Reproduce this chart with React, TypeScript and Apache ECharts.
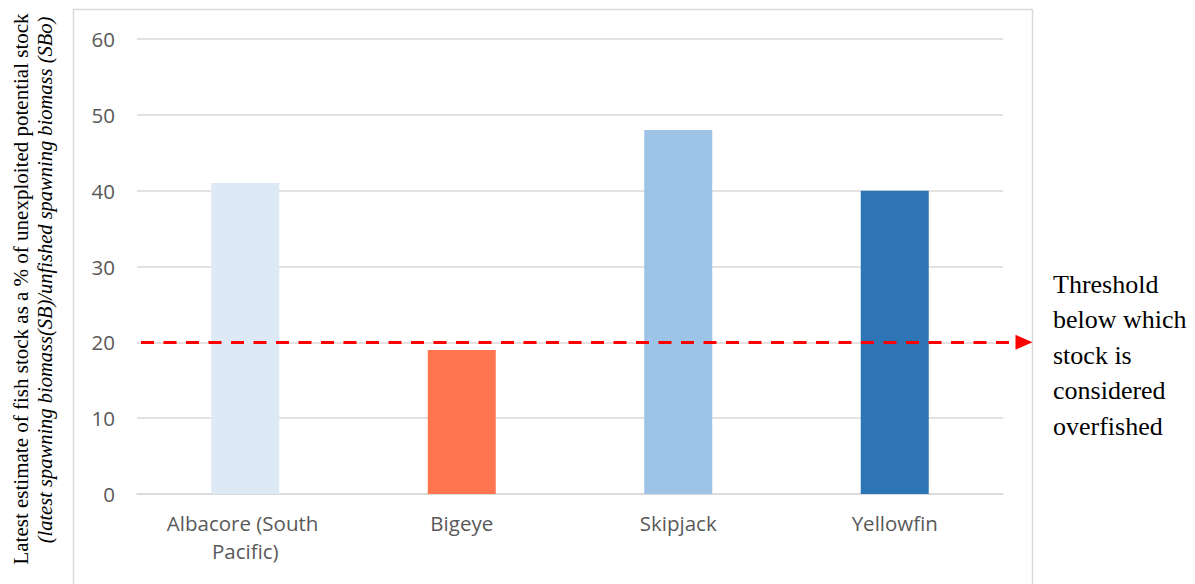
import React, { useEffect, useRef } from "react";
import * as echarts from "echarts";

const categories = ["Albacore (South Pacific)", "Bigeye", "Skipjack", "Yellowfin"];
const values = [41, 19, 48, 40];
const barColors = ["#DDEAF6", "#FF754F", "#9DC3E6", "#2E75B6"];
const threshold = 20;
const yTicks = { min: 0, max: 60, interval: 10 };
const yTitleLine1 = "Latest estimate of fish stock as a % of unexploited potential stock";
const yTitleLine2 = "(latest spawning biomass(SB)/unfished spawning biomass (SBo)";
const thresholdNote = "Threshold\nbelow which\nstock is\nconsidered\noverfished";

export default function App() {
  const ref = useRef<HTMLDivElement>(null);
  useEffect(() => {
    if (!ref.current) return;
    const chart = echarts.init(ref.current, null, { renderer: "svg" });
    chart.setOption({
      animation: false,
      backgroundColor: "#ffffff",
      grid: { left: 137, right: 192, top: 39, bottom: 90, containLabel: false },
      xAxis: {
        type: "category",
        data: categories,
        axisLine: { show: true, lineStyle: { color: "#d9d9d9", width: 1.5 } },
        axisTick: { show: false },
        axisLabel: {
          color: "#595959",
          fontFamily: "Open Sans",
          fontSize: 20.5,
          margin: 15,
          lineHeight: 28,
          width: 185,
          overflow: "break",
          interval: 0,
        },
      },
      yAxis: {
        type: "value",
        min: yTicks.min,
        max: yTicks.max,
        interval: yTicks.interval,
        axisLine: { show: false },
        axisTick: { show: false },
        splitLine: { lineStyle: { color: "#d9d9d9", width: 1.5 } },
        axisLabel: { color: "#595959", fontFamily: "Open Sans", fontSize: 20.5, margin: 22 },
      },
      series: [
        {
          type: "bar",
          barWidth: 68,
          data: values.map((v, i) => ({ value: v, itemStyle: { color: barColors[i] } })),
          markLine: {
            silent: true,
            symbol: ["none", "triangle"],
            symbolSize: [15, 17],
            label: { show: false },
            lineStyle: { color: "#ff0000", width: 3, type: [13, 9.5] },
            data: [[{ yAxis: threshold, x: 141 }, { yAxis: threshold, x: 1024 }]],
          },
        },
      ],
      graphic: [
        {
          type: "rect",
          shape: { x: 73.5, y: 9.5, width: 959, height: 600 },
          style: { fill: "none", stroke: "#d9d9d9", lineWidth: 1.5 },
          silent: true,
        },
        {
          type: "text",
          x: 21,
          y: 289,
          rotation: Math.PI / 2,
          style: {
            text: yTitleLine1,
            fontFamily: "Liberation Serif",
            fontSize: 21,
            fill: "#000",
            align: "center",
            verticalAlign: "middle",
          },
        },
        {
          type: "text",
          x: 45,
          y: 280,
          rotation: Math.PI / 2,
          style: {
            text: yTitleLine2,
            fontFamily: "Liberation Serif",
            fontStyle: "italic",
            fontSize: 20.5,
            fill: "#000",
            align: "center",
            verticalAlign: "middle",
          },
        },
        {
          type: "text",
          x: 1053,
          y: 355,
          style: {
            text: thresholdNote,
            fontFamily: "Liberation Serif",
            fontSize: 26,
            lineHeight: 35.5,
            fill: "#000",
            align: "left",
            verticalAlign: "middle",
          },
        },
      ],
    });
    return () => chart.dispose();
  }, []);
  return (
    <div
      ref={ref}
      style={{ position: "absolute", left: 0, top: 0, width: 1195, height: 584 }}
    />
  );
}
